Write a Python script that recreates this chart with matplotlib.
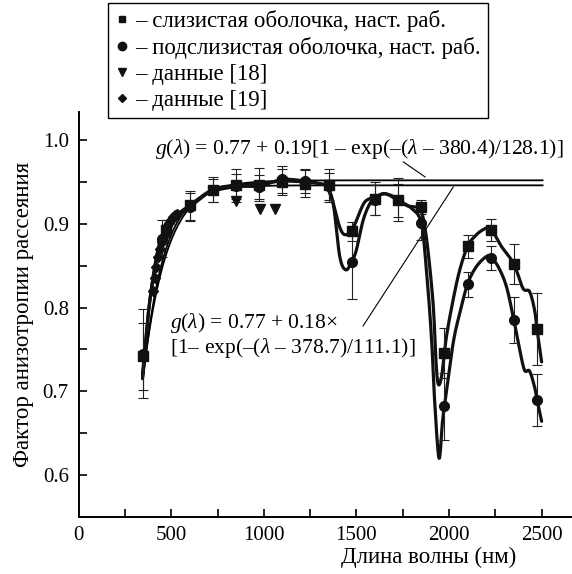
import matplotlib
matplotlib.use("Agg")
import matplotlib.pyplot as plt
from matplotlib.lines import Line2D
import numpy as np

plt.rcParams['font.family'] = ['Liberation Serif', 'DejaVu Serif']
plt.rcParams['mathtext.fontset'] = 'custom'
plt.rcParams['mathtext.rm'] = 'Liberation Serif'
plt.rcParams['mathtext.it'] = 'Liberation Serif:italic'

mucosa_wl = [350, 470, 600, 725, 850, 975, 1100, 1225, 1350, 1475, 1600, 1725, 1850,
             1975, 2100, 2225, 2350, 2475]
mucosa_g = [0.742, 0.893, 0.922, 0.941, 0.946, 0.947, 0.950, 0.948, 0.946, 0.891, 0.930,
            0.929, 0.920, 0.746, 0.873, 0.893, 0.852, 0.774]
mucosa_err = [0.040, 0.012, 0.017, 0.015, 0.020, 0.020, 0.016, 0.016, 0.020, 0.011, 0.020,
              0.026, 0.008, 0.030, 0.014, 0.013, 0.024, 0.043]

submucosa_wl = [350, 450, 600, 725, 850, 975, 1100, 1225, 1350, 1475, 1600, 1725, 1850,
                1975, 2100, 2225, 2350, 2475]
submucosa_g = [0.745, 0.882, 0.920, 0.940, 0.945, 0.944, 0.953, 0.951, 0.945, 0.854, 0.928,
               0.928, 0.901, 0.682, 0.828, 0.859, 0.785, 0.690]
submucosa_err = [0.053, 0.022, 0.017, 0.014, 0.015, 0.014, 0.016, 0.014, 0.016, 0.044, 0.018,
                 0.020, 0.020, 0.040, 0.015, 0.014, 0.028, 0.031]

# data [18]
ref18_wl = [850, 980, 1060]
ref18_g = [0.927, 0.918, 0.918]

# data [19]
ref19_wl = [400, 410, 420, 430, 440, 450, 460, 470, 480, 490, 500, 510, 520, 530]
ref19_g = [0.820, 0.835, 0.848, 0.860, 0.870, 0.878, 0.886, 0.892, 0.897, 0.901,
           0.905, 0.908, 0.910, 0.912]

# smooth guide curves
mucosa_curve_wl = [345, 380, 420, 450, 500, 600, 725, 850, 975, 1100, 1225, 1300, 1340, 1375,
                   1410, 1438, 1475, 1500, 1545, 1600, 1653, 1725, 1770, 1824, 1850, 1880,
                   1914, 1928, 1941, 1960, 1986, 2022, 2058, 2100, 2139, 2184, 2225, 2283,
                   2350, 2399, 2435, 2462, 2475, 2500]
mucosa_curve_g = [0.715, 0.800, 0.860, 0.885, 0.905, 0.922, 0.941, 0.946, 0.948, 0.951, 0.950,
                  0.948, 0.944, 0.924, 0.896, 0.887, 0.892, 0.904, 0.926, 0.932, 0.936, 0.930,
                  0.922, 0.920, 0.916, 0.880, 0.805, 0.741, 0.709, 0.718, 0.765, 0.809, 0.845,
                  0.873, 0.885, 0.893, 0.894, 0.873, 0.852, 0.823, 0.819, 0.797, 0.774, 0.735]
submucosa_curve_wl = [345, 380, 420, 450, 500, 600, 725, 850, 975, 1100, 1225, 1300, 1340, 1375,
                      1410, 1443, 1475, 1500, 1536, 1572, 1600, 1653, 1725, 1800, 1850, 1878,
                      1905, 1923, 1946, 1964, 1975, 2022, 2058, 2100, 2148, 2202, 2225, 2265,
                      2310, 2350, 2382, 2408, 2435, 2462, 2475, 2500]
submucosa_curve_g = [0.720, 0.800, 0.858, 0.882, 0.903, 0.920, 0.940, 0.945, 0.945, 0.953, 0.951,
                     0.948, 0.944, 0.924, 0.861, 0.845, 0.855, 0.869, 0.904, 0.924, 0.930, 0.936,
                     0.928, 0.918, 0.901, 0.845, 0.765, 0.686, 0.620, 0.662, 0.682, 0.757, 0.793,
                     0.828, 0.849, 0.861, 0.860, 0.849, 0.825, 0.785, 0.749, 0.725, 0.724, 0.705,
                     0.690, 0.664]

# fits: g = 0.77 + A [1 - exp(-(l - l0)/tau)]  (plateaus as drawn in the picture)
fit_base = 0.77
fit_amp = [0.182, 0.176]
fit_l0 = [380.4, 378.7]
fit_tau = [128.1, 111.1]

legend_labels = ['– слизистая оболочка, наст. раб.',
                 '– подслизистая оболочка, наст. раб.',
                 '– данные [18]',
                 '– данные [19]']


def smooth(x, y, n=12):
    """Catmull-Rom pass through the traced vertices, just for drawing"""
    p = np.column_stack([x, y]).astype(float)
    p = np.vstack([p[0], p, p[-1]])
    out = []
    t = np.linspace(0, 1, n, endpoint=False)
    for i in range(1, len(p) - 2):
        p0, p1, p2, p3 = p[i - 1], p[i], p[i + 1], p[i + 2]
        tt = t[:, None]
        seg = 0.5 * ((2 * p1) + (-p0 + p2) * tt + (2 * p0 - 5 * p1 + 4 * p2 - p3) * tt ** 2
                     + (-p0 + 3 * p1 - 3 * p2 + p3) * tt ** 3)
        out.append(seg)
    out.append(p[-2][None, :])
    out = np.vstack(out)
    return out[:, 0], out[:, 1]


fig = plt.figure(figsize=(5.72, 5.74), dpi=100)
ax = fig.add_axes([0.1374, 0.0998, 0.8626, 0.7056])

# fit lines
lam = np.linspace(350, 2505, 400)
for a, l0, tau in zip(fit_amp, fit_l0, fit_tau):
    ax.plot(lam, fit_base + a * (1 - np.exp(-(lam - l0) / tau)), color='black', lw=1.3, zorder=2)

# guide curves
for cx, cy in [(mucosa_curve_wl, mucosa_curve_g), (submucosa_curve_wl, submucosa_curve_g)]:
    sx, sy = smooth(cx, cy)
    ax.plot(sx, sy, color='#111111', lw=2.3, solid_capstyle='round', solid_joinstyle='round', zorder=3)

# error bars and markers
ax.errorbar(mucosa_wl, mucosa_g, yerr=mucosa_err, fmt='none', ecolor='#222222',
            elinewidth=0.8, capsize=3.5, capthick=0.8, zorder=4)
ax.errorbar(submucosa_wl, submucosa_g, yerr=submucosa_err, fmt='none', ecolor='#222222',
            elinewidth=0.8, capsize=3.5, capthick=0.8, zorder=4)
ax.plot(mucosa_wl, mucosa_g, 's', color='#111111', ms=6.5, zorder=5)
ax.plot(submucosa_wl, submucosa_g, 'o', color='#111111', ms=7, zorder=5)
ax.plot(ref18_wl, ref18_g, 'v', color='#111111', ms=6.5, zorder=5)
ax.plot(ref19_wl, ref19_g, 'D', color='#111111', ms=5, zorder=5)

# annotations
ax.text(415, 0.990, r'$g$($\lambda$) = 0.77 + 0.19[1 – exp(–($\lambda$ – 380.4)/128.1)]',
        fontsize=15.6, ha='left', va='center')
ax.plot([1753, 1871], [0.974, 0.956], color='black', lw=0.8)
ax.text(494, 0.781, r'$g$($\lambda$) = 0.77 + 0.18×', fontsize=15.5, ha='left', va='center')
ax.text(494, 0.752, r'[1– exp(–($\lambda$ – 378.7)/111.1)]', fontsize=15.5, ha='left', va='center')
ax.plot([1536, 2023], [0.778, 0.944], color='black', lw=0.8)

# axes
ax.set_xlim(0, 2664)
ax.set_ylim(0.55, 1.034)
ax.spines['top'].set_visible(False)
ax.spines['right'].set_visible(False)
ax.spines['left'].set_linewidth(1.4)
ax.spines['bottom'].set_linewidth(1.4)
ax.set_xticks([0, 500, 1000, 1500, 2000, 2500])
ax.set_xticks([250, 750, 1250, 1750, 2250], minor=True)
ax.set_yticks([0.6, 0.7, 0.8, 0.9, 1.0])
ax.set_yticks([0.65, 0.75, 0.85, 0.95], minor=True)
ax.set_yticklabels(['0.6', '0.7', '0.8', '0.9', '1.0'])
ax.tick_params(which='both', direction='in', length=6, width=1.2, labelsize=15, pad=7)
ax.set_ylabel('Фактор анизотропии рассеяния', fontsize=16.5, labelpad=6)
ax.set_xlabel('Длина волны (нм)', fontsize=16.5)
ax.xaxis.set_label_coords(0.71, -0.075)

handles = [Line2D([], [], ls='none', marker='s', color='#111111', ms=5),
           Line2D([], [], ls='none', marker='o', color='#111111', ms=6),
           Line2D([], [], ls='none', marker='v', color='#111111', ms=6),
           Line2D([], [], ls='none', marker='D', color='#111111', ms=4.5)]
leg = fig.legend(handles, legend_labels, loc='upper left', bbox_to_anchor=(108 / 572, 1 - 3 / 574),
                 fontsize=16.5, frameon=True, fancybox=False, framealpha=1, edgecolor='black',
                 handlelength=0.6, handletextpad=0.3, labelspacing=0.22, borderpad=0.3,
                 borderaxespad=0)
leg.get_frame().set_linewidth(1.0)

fig.savefig('out.png', dpi=100)
